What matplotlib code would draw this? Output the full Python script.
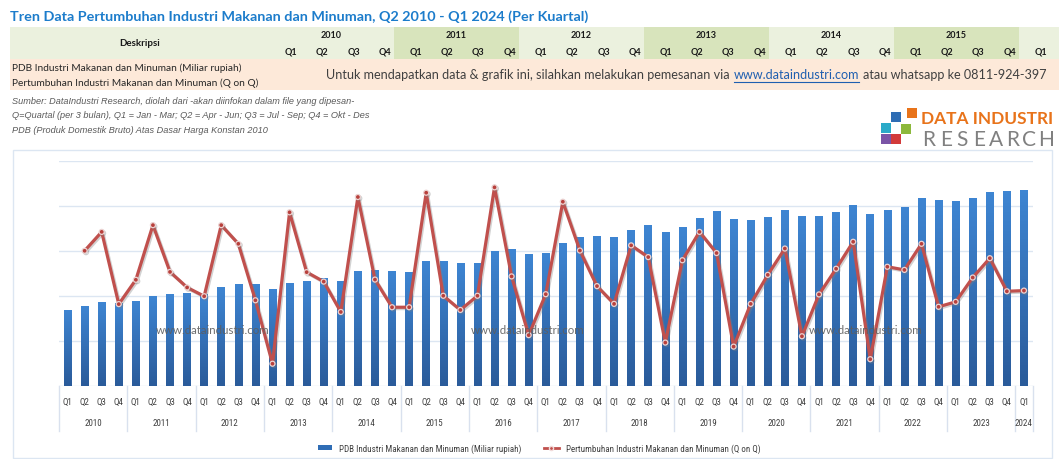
import numpy as np
import matplotlib
matplotlib.use("Agg")
import matplotlib.pyplot as plt
from matplotlib.patches import Rectangle, Patch
from matplotlib.lines import Line2D
from matplotlib.colors import LinearSegmentedColormap
import matplotlib.patheffects as pe

# data
pdb = [84550, 89000, 93100, 92750,
       94600, 99800, 102000, 103500,
       102500, 109800, 113850, 113850,
       107550, 115000, 117200, 119450,
       117200, 127950, 129100, 127950,
       126850, 138700, 138700, 136850,
       136850, 149500, 151700, 146150,
       147250, 159150, 165800, 166900,
       165800, 173600, 178800, 171350,
       176550, 186200, 194000, 185100,
       184000, 187300, 195100, 188450,
       188450, 192900, 201400, 190650,
       195100, 199200, 209200, 206600,
       205850, 209200, 215500, 216600,
       217350]
# growth q-on-q (%), starts at Q2 2010
growth = [2.01, 2.85, -0.36,
          0.72, 3.15, 1.07, 0.38,
          -0.01, 3.15, 2.32, -0.19,
          -3.01, 3.72, 1.06, 0.64,
          -0.71, 4.40, 0.73, -0.50,
          -0.50, 4.59, 0.01, -0.62,
          0.01, 4.83, 0.87, -1.74,
          0.08, 4.19, 2.02, 0.44,
          -0.35, 2.25, 1.73, -2.07,
          1.59, 2.85, 1.91, -2.25,
          -0.35, 0.94, 2.11, -1.79,
          0.07, 1.21, 2.41, -2.81,
          1.30, 1.16, 2.32, -0.48,
          -0.26, 0.82, 1.68, 0.21,
          0.24]
quarters = ["Q1", "Q2", "Q3", "Q4"] * 14 + ["Q1"]
years = [str(y) for y in range(2010, 2024)] + ["2024"]
header_years = ["2010", "2011", "2012", "2013", "2014", "2015"]

title = "Tren Data Pertumbuhan Industri Makanan dan Minuman, Q2 2010 - Q1 2024 (Per Kuartal)"
label_pdb = "PDB Industri Makanan dan Minuman (Miliar rupiah)"
label_growth = "Pertumbuhan Industri Makanan dan Minuman (Q on Q)"
notes = ["Sumber: DataIndustri Research, diolah dari -akan diinfokan dalam file yang dipesan-",
         "Q=Quartal (per 3 bulan), Q1 = Jan - Mar; Q2 = Apr - Jun; Q3 = Jul - Sep; Q4 = Okt - Des",
         "PDB (Produk Domestik Bruto) Atas Dasar Harga Konstan 2010"]

W, H = 1059, 460
HDR = "Lato"
NARROW = ["Liberation Sans Narrow", "Roboto Condensed", "DejaVu Sans"]

fig = plt.figure(figsize=(W / 100, H / 100), dpi=100)
bg = fig.add_axes([0, 0, 1, 1])
bg.set_xlim(0, W)
bg.set_ylim(H, 0)
bg.axis("off")
r = fig.canvas.get_renderer()

# ---- header table ----
bg.add_patch(Rectangle((10, 28), W - 10, 32, color="#EBF1DE", lw=0))
for k in range(6):
    x0 = 269 + 125 * k
    if k % 2 == 1:
        bg.add_patch(Rectangle((x0, 28), 125, 32, color="#D8E4BC", lw=0))
    bg.text(x0 + 62.5, 36, header_years[k], ha="center", va="center",
            fontsize=6.5, fontweight="bold", family=HDR, color="#1a1a1a")
for j in range(25):
    bg.text(269 + 31.25 * (j + 1) - 3, 52, quarters[j], ha="right", va="center",
            fontsize=6.5, fontweight="bold", family=HDR, color="#1a1a1a")
bg.text(139.5, 43, "Deskripsi", ha="center", va="center", fontsize=7,
        fontweight="bold", family=HDR, color="#1a1a1a")

bg.add_patch(Rectangle((10, 60), W - 10, 30.5, color="#FDE9D9", lw=0))
bg.text(12, 68.5, label_pdb, va="center", fontsize=7.3, family=HDR, color="#262626")
bg.text(12, 83, label_growth, va="center", fontsize=7.3, family=HDR, color="#262626")

bg.text(10, 17, title, va="center", fontsize=10.4, fontweight="bold",
        family=HDR, color="#1C7CCB")

# order message, url drawn in blue with an underline
t1 = bg.text(326, 75, "Untuk mendapatkan data & grafik ini, silahkan melakukan pemesanan via",
             va="center", fontsize=9.05, family=HDR, color="#404040")
x_url = t1.get_window_extent(r).x1 + 4
t2 = bg.text(x_url, 75, "www.dataindustri.com", va="center", fontsize=9.05,
             family=HDR, color="#1F5FB0")
bb = t2.get_window_extent(r)
bg.plot([bb.x0, bb.x1], [82.5, 82.5], color="#1F5FB0", lw=0.8)
bg.text(bb.x1 + 4, 75, "atau whatsapp ke 0811-924-397", va="center",
        fontsize=9.05, family=HDR, color="#404040")

for i, s in enumerate(notes):
    bg.text(12, 101 + 15 * i, s, va="center", fontsize=6.6, style="italic",
            family="Liberation Sans", color="#595959")

# logo
logo_sq = [(907, 109, "#E8731A"), (891, 113, "#2E6DB4"), (881, 124, "#2AAAC8"),
           (901, 125, "#8CB83C"), (881, 135, "#7A54A6"), (891, 135, "#D23A3A")]
for x, y, c in logo_sq:
    bg.add_patch(Rectangle((x, y), 9.5, 10, color=c, lw=0))
logo = bg.text(1053, 118.5, "DATA INDUSTRI", ha="right", va="center", fontsize=15,
               fontweight="bold", family=HDR, color="#E8731A")
# shrink so it sits between 921 and 1053 px
lw_ = logo.get_window_extent(r).width
logo.set_fontsize(15 * 132 / lw_)
for k, ch in enumerate("RESEARCH"):
    bg.text(929 + 16.7 * k, 140, ch, ha="center", va="center", fontsize=15,
            family=HDR, color="#808080")

# chart frame
bg.add_patch(Rectangle((13, 151), 1039, 308, fill=False, ec="#DCE6F2", lw=1))

# ---- main chart ----
ax = fig.add_axes([59 / W, 1 - 387 / H, 973.5 / W, 225 / H])
ax.set_facecolor("none")
x = np.arange(len(pdb))
for v in range(0, 250001, 50000):
    ax.axhline(v, color="#DCE6F2", lw=1, zorder=0)

bars = ax.bar(x, pdb, width=0.44, color="#3372BE", zorder=2)
cmap = LinearSegmentedColormap.from_list("blu", ["#2A5B9A", "#3E85D2"])
grad = np.linspace(0, 1, 64).reshape(-1, 1)
for rect in bars:
    x0, w, h = rect.get_x(), rect.get_width(), rect.get_height()
    im = ax.imshow(grad, extent=(x0, x0 + w, 0, h), aspect="auto", cmap=cmap,
                   origin="lower", zorder=2)
    im.set_clip_path(rect)
ax.set_xlim(-0.5, len(pdb) - 0.5)
ax.set_ylim(0, 250000)
ax.set_xticks([])
ax.set_yticks([])
for s in ax.spines.values():
    s.set_visible(False)

ax2 = ax.twinx()
ax2.set_ylim(-4, 6)
ax2.plot(x[1:], growth, color="#C0504D", lw=2.3, marker="o", ms=3.6,
         mfc="#B8403C", mec="#EBD3D2", mew=0.9,
         path_effects=[pe.SimpleLineShadow(offset=(1, -1), shadow_color="gray", alpha=0.35),
                       pe.Normal()])
ax2.set_yticks([])
for s in ax2.spines.values():
    s.set_visible(False)

# two level category axis
trans = ax.get_xaxis_transform()
for i, q in enumerate(quarters):
    ax.text(i, -15 / 225, q, transform=trans, ha="center", va="center",
            fontsize=6.5, family=NARROW, color="#404040")
for k, yr in enumerate(years):
    xc = 56 if yr == "2024" else 4 * k + 1.5
    ax.text(xc, -36 / 225, yr, transform=trans, ha="center", va="center",
            fontsize=6.5, family=NARROW, color="#404040")
for xs in list(np.arange(-0.5, 56, 4)) + [56.5]:
    ax.plot([xs, xs], [0, -0.2], transform=trans, color="#D9E1EE", lw=1, clip_on=False)

# watermarks
for xw in [213, 528, 866]:
    fig.text(xw, 331, "www.dataindustri.com", transform=bg.transData, ha="center",
             va="center", fontsize=8.3, family=HDR, color="#5E5E5E", alpha=0.9)

handles = [Patch(facecolor="#2F6DB5"),
           Line2D([], [], color="#C0504D", lw=2, marker="o", ms=3, mec="#F2DCDB")]
fig.legend(handles, [label_pdb, label_growth], loc="center",
           bbox_to_anchor=(539 / W, 1 - 449 / H), ncol=2, frameon=False,
           handlelength=1.6, handleheight=0.6, columnspacing=2.5,
           prop={"family": NARROW, "size": 6.5}, labelcolor="#404040")

fig.savefig("out.png", dpi=100)
